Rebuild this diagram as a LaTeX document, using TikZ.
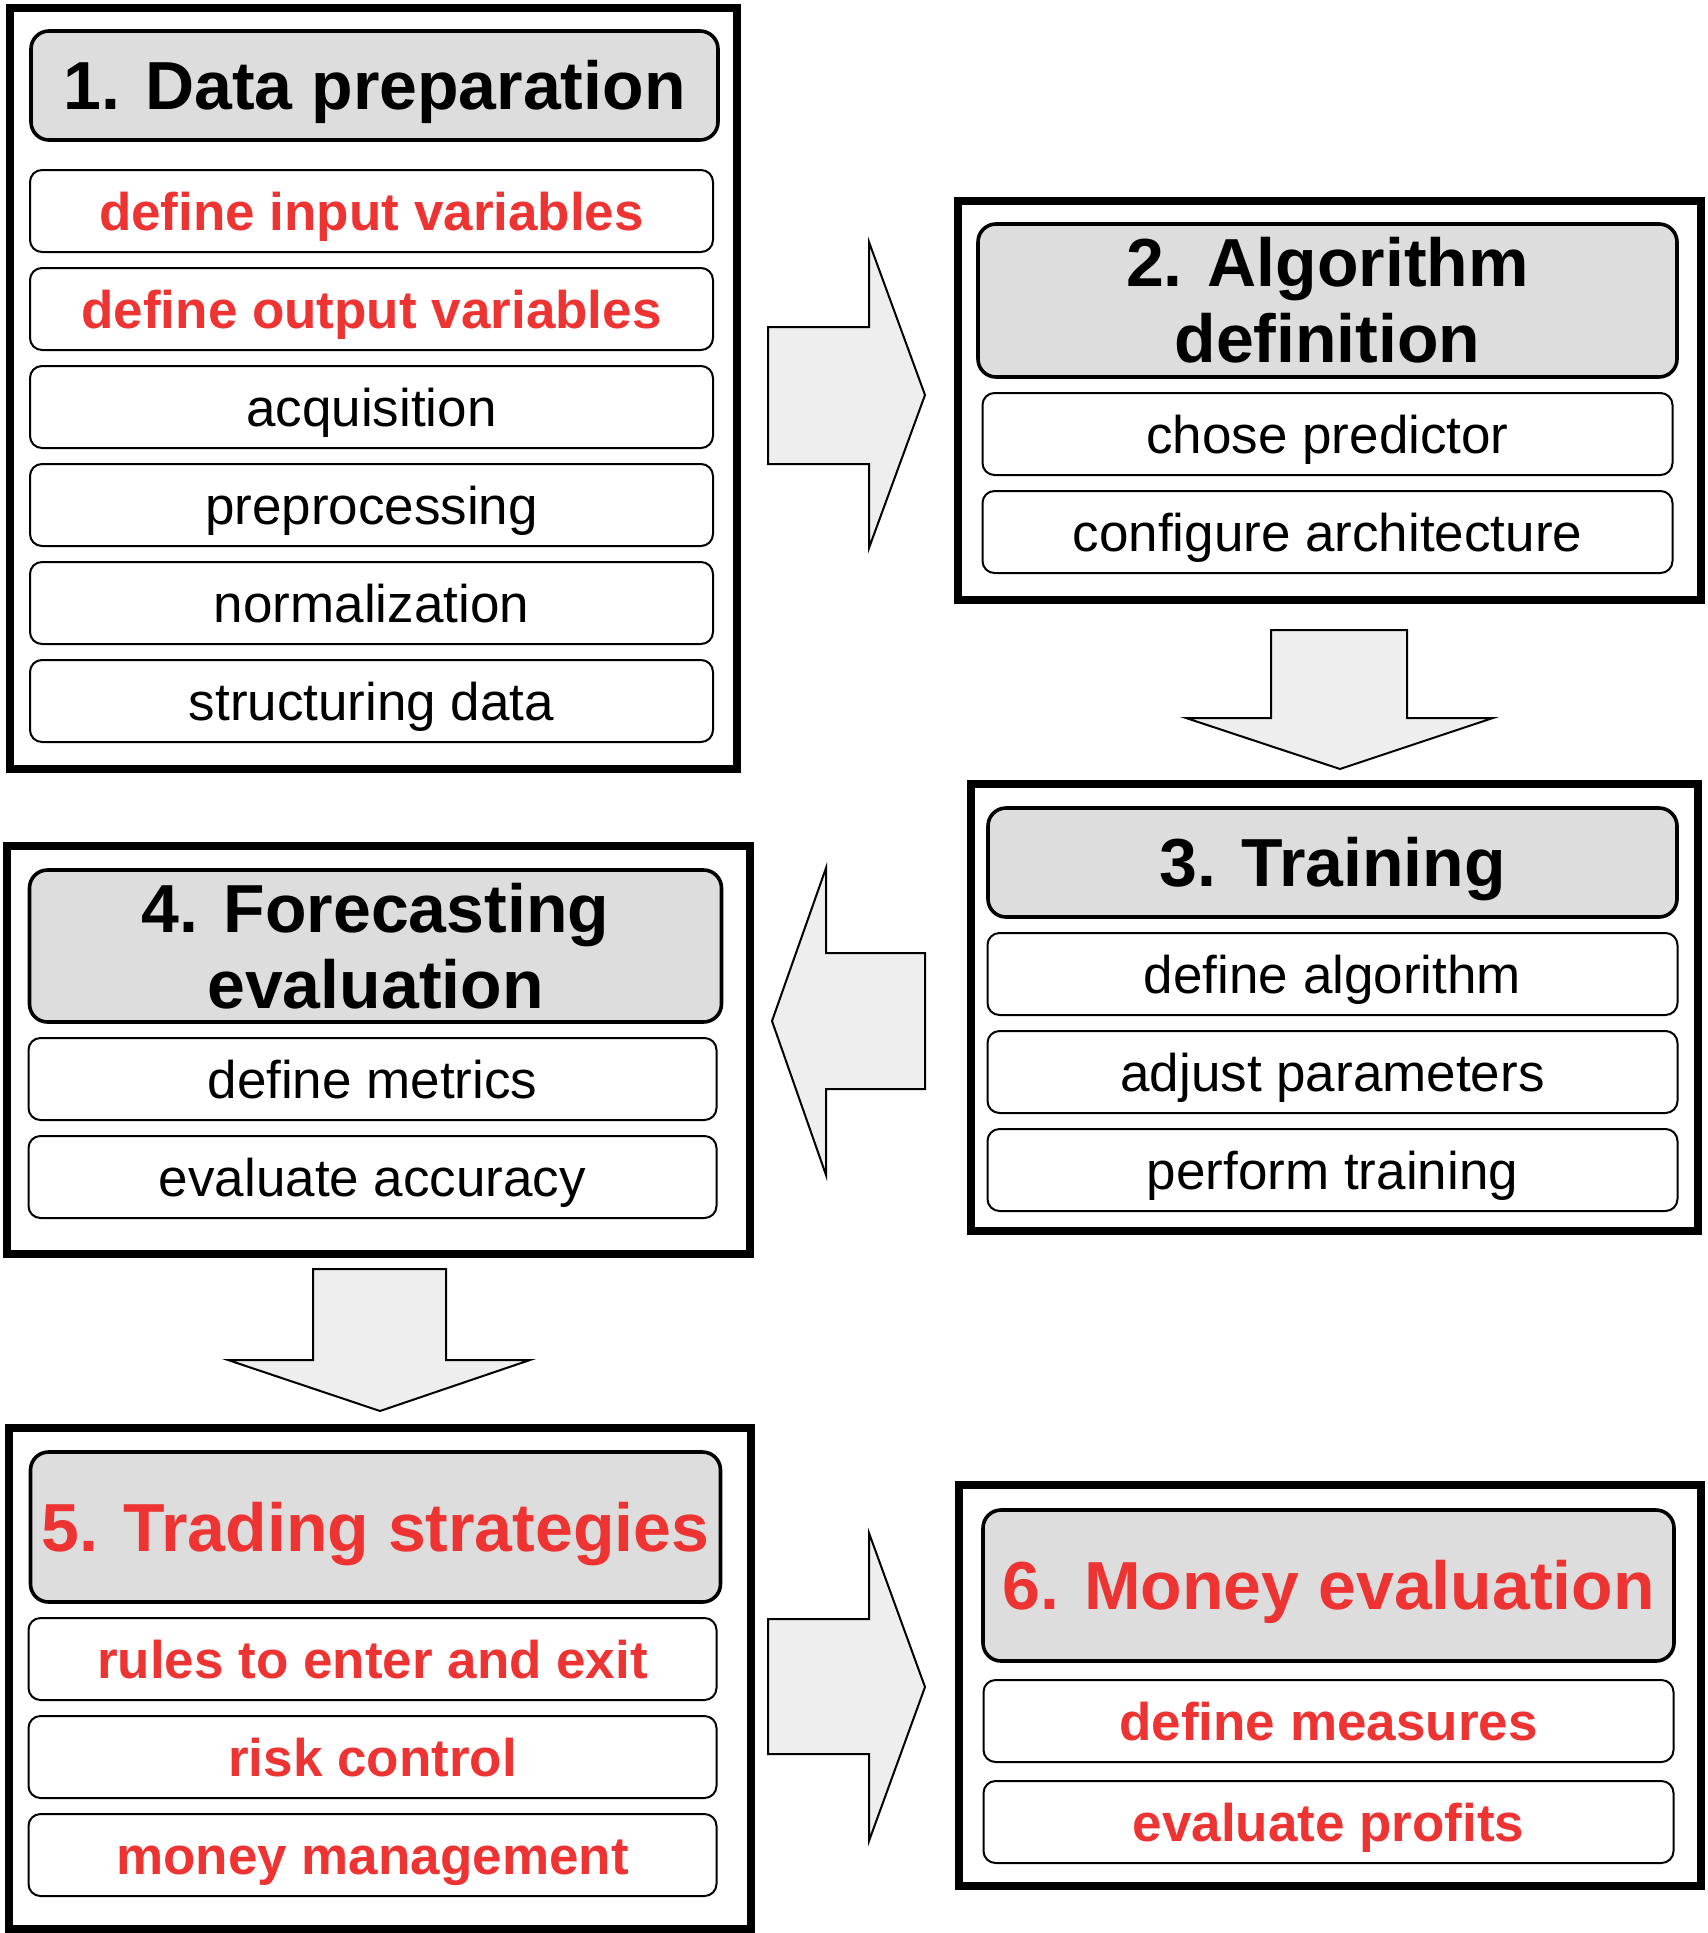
\documentclass[tikz,border=0pt]{standalone}
\usepackage{fontspec}
\setmainfont{Liberation Sans}
\usetikzlibrary{positioning}

\definecolor{hotred}{RGB}{238,51,51}
\definecolor{headgray}{RGB}{221,221,221}
\definecolor{arrowgray}{RGB}{238,238,238}

\tikzset{
  stage/.style={draw, line width=4pt, inner sep=0pt, outer sep=0pt},
  head/.style={draw, line width=1.8pt, rounded corners=9pt, fill=headgray,
    inner sep=0pt, outer sep=0pt, minimum width=345pt,
    font=\bfseries\fontsize{34}{38}\selectfont},
  flathead/.style={text height=24.4pt, text depth=0pt},
  task/.style={draw, line width=1pt, rounded corners=6pt, inner sep=0pt,
    outer sep=0pt, minimum width=345pt, minimum height=41pt,
    text height=19pt, text depth=0pt, font=\fontsize{26.5}{30}\selectfont},
  hot/.style={text=hotred, font=\bfseries\fontsize{26.5}{30}\selectfont},
  blockarrow/.style={draw, line width=1pt, fill=arrowgray, line join=miter},
}

\begin{document}
\begin{tikzpicture}[x=0.5pt, y=-0.5pt, node distance=8pt]
  \useasboundingbox (0,0) rectangle (1708,1933);

  % 1. data preparation
  \node (s1) [stage, minimum width=363.5pt, minimum height=380.5pt] at (373.5,388.5) {};
  \node (h1) [head, flathead, minimum width=343.5pt, minimum height=54.5pt] at (374.5,85.5) {1. Data preparation};
  \node (inputs) [task, hot, minimum width=341.5pt, below=15pt of h1, xshift=-1.5pt] {define input variables};
  \node (outputs) [task, hot, minimum width=341.5pt, below=of inputs] {define output variables};
  \node (acquisition) [task, minimum width=341.5pt, below=of outputs] {acquisition};
  \node (preprocessing) [task, minimum width=341.5pt, below=of acquisition] {preprocessing};
  \node (normalization) [task, minimum width=341.5pt, below=of preprocessing] {normalization};
  \node (structuring) [task, minimum width=341.5pt, below=of normalization] {structuring data};

  % 2. algorithm definition
  \node (s2) [stage, minimum width=371.5pt, minimum height=199.5pt] at (1329.5,400.5) {};
  \node (h2) [head, align=center, minimum width=349.5pt, minimum height=76.5pt] at (1327.5,300.5) {2. Algorithm\\definition};
  \node (predictor) [task, below=of h2] {chose predictor};
  \node (architecture) [task, below=of predictor] {configure architecture};

  % 3. training
  \node (s3) [stage, minimum width=363.5pt, minimum height=223.5pt] at (1334.5,1007.5) {};
  \node (h3) [head, flathead, minimum width=344.5pt, minimum height=54.5pt] at (1332.5,862.5) {3. Training};
  \node (algorithm) [task, below=of h3] {define algorithm};
  \node (parameters) [task, below=of algorithm] {adjust parameters};
  \node (training) [task, below=of parameters] {perform training};

  % 4. forecasting evaluation
  \node (s4) [stage, minimum width=371.5pt, minimum height=204pt] at (378.5,1050) {};
  \node (h4) [head, align=center, minimum width=346pt, minimum height=76pt] at (375.5,946) {4. Forecasting\\evaluation};
  \node (metrics) [task, minimum width=344pt, below=of h4, xshift=-1.5pt] {define metrics};
  \node (accuracy) [task, minimum width=344pt, below=of metrics] {evaluate accuracy};

  % 5. trading strategies
  \node (s5) [stage, minimum width=371pt, minimum height=250.5pt] at (380,1678.5) {};
  \node (h5) [head, flathead, text=hotred, minimum width=345pt, minimum height=75pt] at (375.5,1527) {5. Trading strategies};
  \node (rules) [task, hot, minimum width=344pt, below=of h5, xshift=-1.5pt] {rules to enter and exit};
  \node (risk) [task, hot, minimum width=344pt, below=of rules] {risk control};
  \node (money) [task, hot, minimum width=344pt, below=of risk] {money management};

  % 6. money evaluation
  \node (s6) [stage, minimum width=371pt, minimum height=200.5pt] at (1330,1685.5) {};
  \node (h6) [head, flathead, text=hotred, minimum width=345.5pt, minimum height=75.5pt] at (1328.5,1585.5) {6. Money evaluation};
  \node (measures) [task, hot, below=9.5pt of h6] {define measures};
  \node (profits) [task, hot, below=9.5pt of measures] {evaluate profits};

  % block arrows between the stages
  \draw[blockarrow] (768,327) -- (869,327) -- (869,242) -- (925,395) -- (869,548) -- (869,464) -- (768,464) -- cycle;
  \draw[blockarrow] (1271,630) -- (1407,630) -- (1407,718) -- (1493,718) -- (1340,769) -- (1186,718) -- (1271,718) -- cycle;
  \draw[blockarrow] (925,953) -- (826,953) -- (826,868) -- (772,1021) -- (826,1175) -- (826,1089) -- (925,1089) -- cycle;
  \draw[blockarrow] (313,1269) -- (446,1269) -- (446,1360) -- (530,1360) -- (380,1411) -- (228,1360) -- (313,1360) -- cycle;
  \draw[blockarrow] (768,1619) -- (869,1619) -- (869,1533) -- (925,1687) -- (869,1841) -- (869,1754) -- (768,1754) -- cycle;
\end{tikzpicture}
\end{document}
